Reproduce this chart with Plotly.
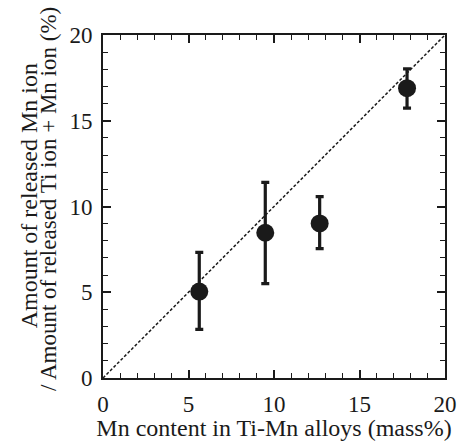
import plotly.graph_objects as go

# Mn content of the alloys (mass%)
mn_content = [5.63, 9.49, 12.67, 17.78]
# Mn fraction of released ions (%)
mn_released = [5.04, 8.47, 9.01, 16.9]
err_plus = [2.29, 2.94, 1.57, 1.12]
err_minus = [2.21, 2.97, 1.47, 1.16]

ref_x = [0, 20]
ref_y = [0, 20]

x_ticks = [0, 5, 10, 15, 20]
y_ticks = [0, 5, 10, 15, 20]

FONT = "Liberation Serif, Times New Roman, serif"
INK = "#1a1a1a"

fig = go.Figure()

# y = x reference line
fig.add_trace(go.Scatter(
    x=ref_x, y=ref_y, mode="lines",
    line=dict(color=INK, width=1.5, dash="3px,2px"),
    hoverinfo="skip", showlegend=False,
))

fig.add_trace(go.Scatter(
    x=mn_content, y=mn_released, mode="markers",
    marker=dict(color=INK, size=18),
    error_y=dict(type="data", symmetric=False, array=err_plus,
                 arrayminus=err_minus, color=INK, thickness=3.2, width=4),
    showlegend=False,
))

axis_common = dict(
    showgrid=False, zeroline=False, automargin=False,
    showline=True, linecolor=INK, linewidth=2, mirror="allticks",
    ticks="inside", ticklen=8, tickwidth=1.5, tickcolor=INK,
    tickfont=dict(family=FONT, size=23, color=INK),
    minor=dict(ticks="inside", ticklen=5, tickwidth=1.2, tickcolor=INK, dtick=1),
)

fig.update_xaxes(range=[0, 20], tickvals=x_ticks, ticktext=[str(v) for v in x_ticks],
                 title=dict(text="Mn content in Ti-Mn alloys (mass%)",
                            font=dict(family=FONT, size=24, color=INK), standoff=2),
                 ticklabelstandoff=4,
                 **axis_common)
fig.update_yaxes(range=[0, 20], tickvals=y_ticks, ticktext=[str(v) for v in y_ticks],
                 ticklabelstandoff=4,
                 **axis_common)

# two-line y-axis title
fig.add_annotation(text="Amount of released Mn ion", xref="paper", yref="paper",
                   x=-0.216, y=0.53, textangle=-90, showarrow=False,
                   xanchor="center", yanchor="middle",
                   font=dict(family=FONT, size=24, color=INK))
fig.add_annotation(text="/ Amount of released Ti ion + Mn ion (%)", xref="paper", yref="paper",
                   x=-0.158, y=0.522, textangle=-90, showarrow=False,
                   xanchor="center", yanchor="middle",
                   font=dict(family=FONT, size=23, color=INK))

fig.update_layout(
    width=460, height=441,
    margin=dict(l=103, r=15, t=35, b=63, autoexpand=False),
    paper_bgcolor="white", plot_bgcolor="white",
)

fig.write_html("out.html")
